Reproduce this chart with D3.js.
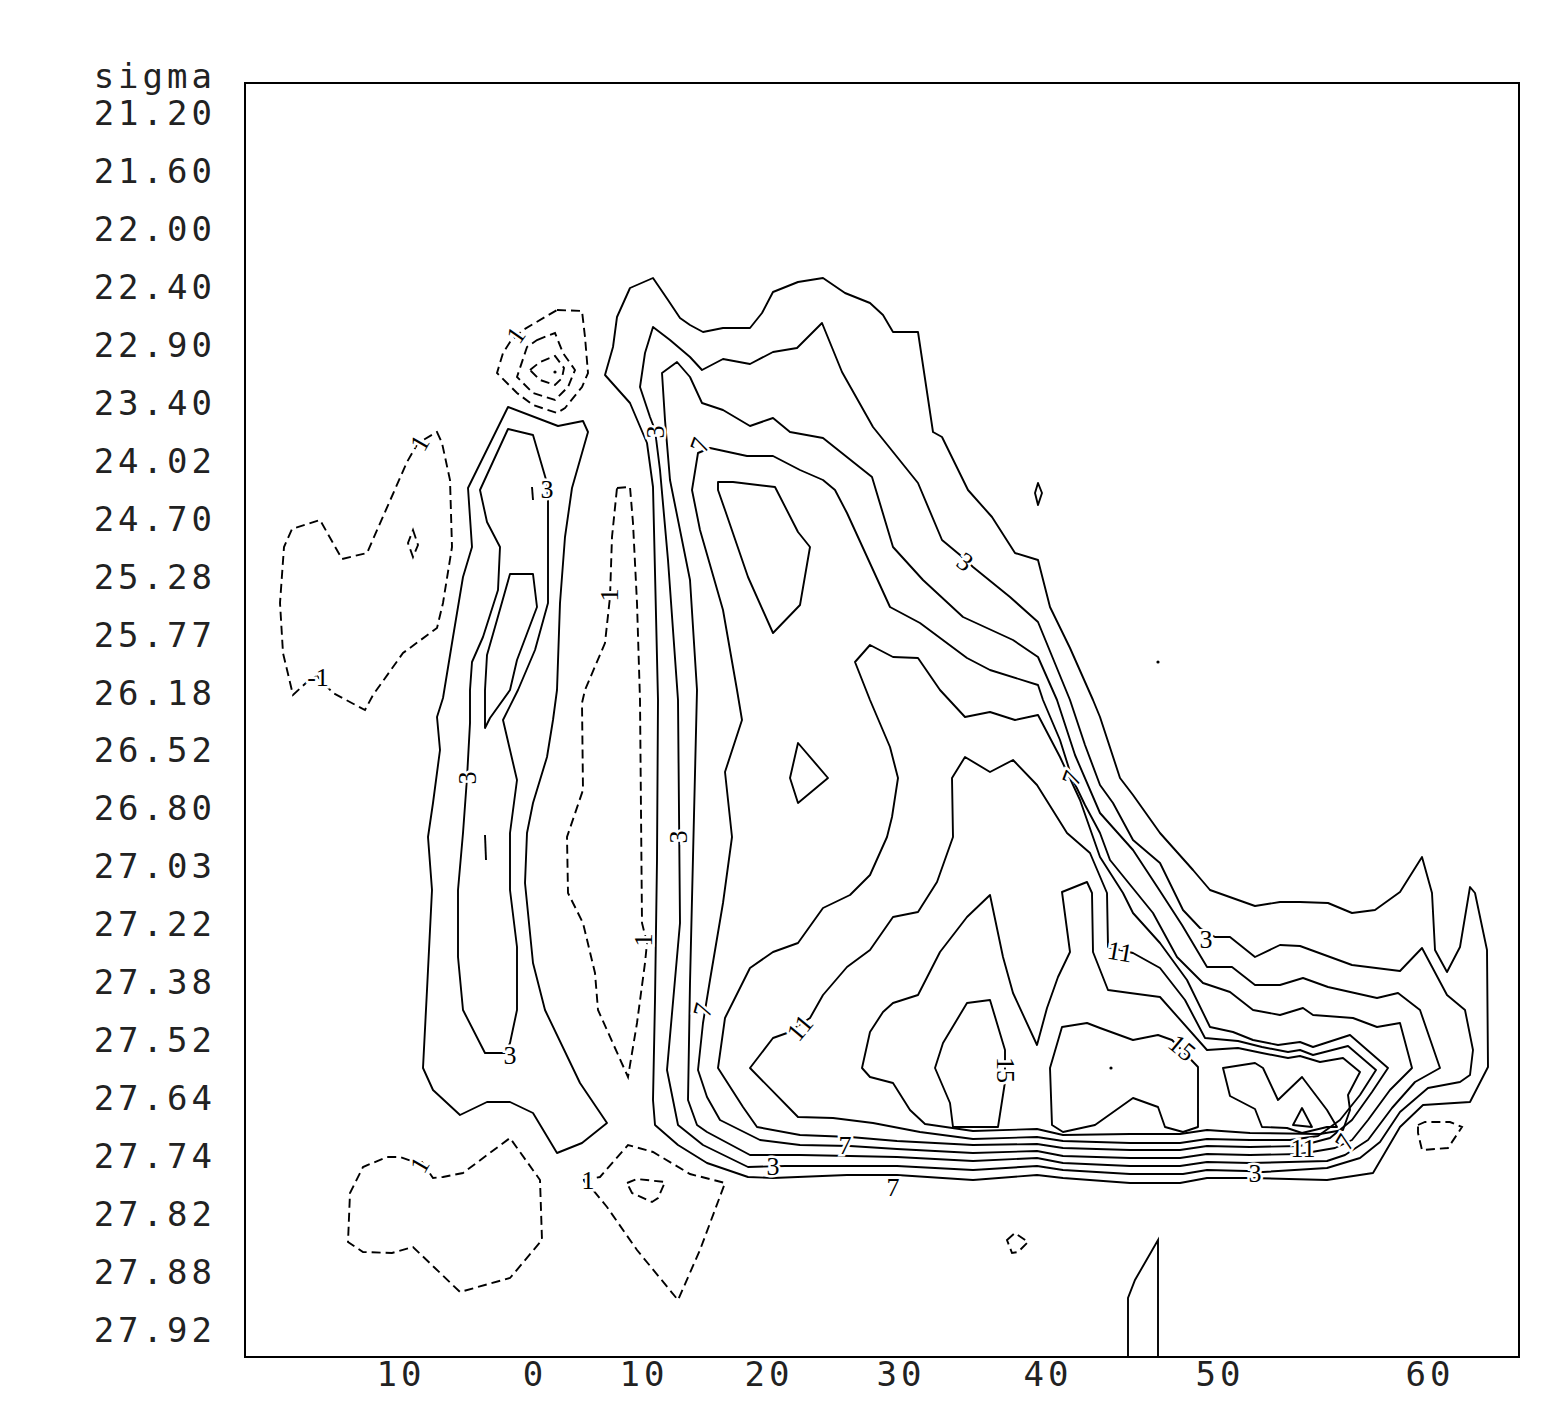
<!DOCTYPE html>
<html>
<head>
<meta charset="utf-8">
<script src="https://cdn.jsdelivr.net/npm/d3@7"></script>
<style>
  body { margin: 0; background: #fff; }
  svg { display: block; }
</style>
</head>
<body>
<svg id="chart"></svg>
<script>
// density section: x = station grid units, y = sigma-level grid units (0..127.4 both)
const sigmaLabels = ["21.20","21.60","22.00","22.40","22.90","23.40","24.02","24.70","25.28","25.77",
  "26.18","26.52","26.80","27.03","27.22","27.38","27.52","27.64","27.74","27.82","27.88","27.92"];
const latLabels = ["10","0","10","20","30","40","50","60"];
const latGrid = [15.4, 28.8, 39.7, 52.2, 65.4, 80.1, 97.3, 118.3];

// negative (dashed) closed contours
const negRings = [
  [[19.2,34.9],[19.7,36.0],[20.5,39.7],[20.7,46.4],[19.8,52.0],[19.2,54.5],[15.8,57.0],[12.8,61.2],[12.0,62.7],[8.8,61.0],[7.2,59.3],[6.2,59.9],[4.8,61.2],[3.8,57.0],[3.5,52.0],[3.9,46.4],[4.7,44.6],[7.5,43.7],[9.7,47.6],[12.2,47.0],[16.2,37.9],[17.3,36.0]],
  [[16.8,44.7],[17.3,46.2],[16.8,47.4],[16.3,46.0]],
  [[31.2,22.7],[33.7,22.8],[34.0,25.4],[34.3,29.0],[33.7,30.4],[32.0,32.5],[31.2,33.0],[28.8,32.2],[27.2,31.0],[25.2,29.0],[25.8,27.0],[26.5,25.9],[27.8,24.7]],
  [[29.2,25.7],[31.0,25.0],[31.8,27.0],[33.0,28.7],[32.3,30.4],[31.0,31.7],[28.8,31.0],[27.2,29.4],[28.2,26.4]],
  [[28.5,28.7],[29.5,27.9],[31.0,27.3],[31.9,28.5],[31.7,29.5],[31.0,30.2],[29.5,29.7]],
  [[37.2,40.5],[38.5,40.4],[38.8,44.0],[39.2,52.0],[39.5,61.7],[39.7,84.0],[40.2,86.0],[40.0,88.0],[39.2,94.0],[38.3,99.4],[35.3,92.7],[35.0,89.0],[33.8,84.0],[32.3,81.0],[32.2,75.4],[33.8,70.7],[33.7,62.0],[34.0,60.7],[36.0,56.0],[36.5,51.4],[36.7,45.4]],
  [[17.7,107.9],[18.8,109.5],[19.8,109.4],[21.8,109.0],[26.5,105.5],[29.5,109.7],[29.7,115.7],[26.5,119.5],[21.5,120.9],[16.8,116.4],[14.7,117.0],[11.8,116.9],[10.3,115.9],[10.5,111.0],[11.8,108.4],[14.2,107.4],[15.5,107.4],[17.2,108.0]],
  [[33.8,109.7],[35.5,109.4],[38.3,106.2],[40.8,106.9],[44.5,109.1],[48.0,110.0],[45.5,116.7],[43.3,121.7],[39.2,116.7],[36.2,112.4],[34.8,110.7]],
  [[38.2,110.0],[39.2,109.6],[42.0,109.9],[41.3,111.5],[40.7,111.9],[38.7,111.0]],
  [[76.2,115.7],[77.0,115.0],[78.3,115.9],[77.3,116.9],[76.7,117.0]],
  [[117.3,104.2],[118.0,103.9],[120.5,103.9],[121.7,104.4],[120.3,106.5],[117.7,106.7],[117.3,105.0]]
];

// positive (solid) closed contours, levels 1..17
const posRings = [
  // western ridge: 1, 3, 5
  [[26.3,32.4],[31.3,34.3],[33.8,33.8],[34.3,34.9],[32.7,40.5],[32.0,45.4],[31.5,52.0],[31.2,60.7],[30.8,63.7],[30.2,67.4],[28.8,72.0],[28.2,75.0],[28.0,80.0],[28.8,88.0],[30.0,92.7],[33.5,100.0],[36.2,104.0],[33.7,106.0],[31.2,107.0],[28.8,103.0],[26.5,101.9],[24.2,101.9],[21.5,103.2],[18.8,100.7],[17.8,98.5],[18.2,90.7],[18.7,80.7],[18.3,75.4],[18.8,72.0],[19.5,66.7],[19.2,63.4],[19.8,61.5],[20.8,55.4],[21.8,49.4],[22.7,46.4],[22.3,40.5]],
  [[26.3,34.6],[28.8,35.2],[30.2,40.0],[30.3,41.7],[30.3,52.0],[29.0,56.7],[27.3,60.7],[25.8,63.7],[27.2,69.7],[26.5,75.0],[26.5,80.7],[27.2,86.4],[27.2,92.7],[26.5,96.0],[26.0,97.0],[24.0,97.0],[21.8,92.7],[21.3,87.4],[21.3,80.7],[21.8,75.0],[22.2,69.5],[22.5,64.0],[22.5,60.7],[22.7,57.9],[23.8,55.4],[25.3,50.7],[25.5,46.4],[24.2,43.9],[23.5,40.7]],
  [[26.5,49.1],[28.8,49.1],[29.2,52.4],[27.2,57.7],[26.5,60.7],[24.5,63.5],[24.0,64.5],[24.0,60.7],[24.2,57.2],[25.2,53.7]],
  // main core: 1
  [[41.3,61.7],[41.2,77.7],[41.0,91.7],[40.8,101.7],[41.0,104.2],[43.3,106.2],[46.2,108.0],[50.3,109.4],[52.8,109.5],[60.2,109.2],[65.2,109.2],[72.8,109.7],[79.2,109.2],[81.8,109.5],[88.5,110.0],[93.5,110.0],[96.2,109.5],[100.5,109.5],[108.2,109.7],[112.8,109.0],[115.5,104.4],[117.8,102.2],[122.5,101.9],[124.3,98.4],[124.2,86.7],[123.0,81.0],[122.5,80.4],[121.5,86.4],[120.2,88.9],[119.0,86.7],[118.7,81.0],[117.7,77.4],[115.5,80.9],[113.0,82.7],[110.7,83.0],[108.3,82.0],[105.5,81.9],[103.5,81.9],[101.0,82.3],[96.5,80.7],[94.8,78.7],[91.5,75.0],[88.8,71.2],[87.5,69.5],[85.5,63.4],[84.8,61.7],[82.5,56.5],[80.5,52.4],[79.3,47.7],[77.0,47.0],[74.7,43.4],[72.3,40.7],[69.7,35.4],[68.8,34.9],[67.3,24.9],[64.8,24.9],[63.8,23.2],[62.5,22.0],[60.0,21.0],[57.8,19.5],[55.3,19.9],[52.8,20.9],[51.7,23.0],[50.5,24.5],[47.8,24.5],[45.8,24.9],[44.5,24.2],[43.5,23.5],[42.3,21.7],[40.8,19.5],[38.5,20.5],[37.2,23.4],[36.8,26.4],[36.0,29.2],[38.5,32.0],[40.2,36.0],[40.8,40.4]],
  // 3
  [[40.8,24.4],[42.5,25.7],[44.5,27.4],[45.7,28.7],[47.8,27.6],[50.5,28.1],[52.8,26.9],[55.2,26.5],[57.7,24.0],[59.7,28.9],[62.8,34.4],[67.3,40.0],[69.7,45.7],[71.5,47.2],[72.8,48.4],[76.5,51.4],[79.3,53.9],[82.5,61.7],[84.0,66.2],[85.5,70.2],[86.8,72.0],[88.8,75.7],[91.5,78.0],[93.8,82.7],[95.5,84.5],[97.0,85.4],[98.5,85.4],[101.0,87.4],[103.5,86.2],[105.5,86.3],[110.7,88.2],[115.5,88.8],[117.7,86.5],[120.2,91.2],[122.0,92.7],[122.8,96.7],[122.5,99.2],[121.5,99.9],[118.3,100.5],[115.5,102.9],[113.5,105.9],[111.5,107.5],[108.2,108.5],[101.8,108.9],[100.2,108.8],[96.2,108.7],[93.8,109.1],[88.5,109.1],[81.8,108.7],[79.2,108.3],[72.8,108.7],[65.2,108.3],[60.2,108.3],[54.0,108.3],[50.3,108.4],[45.8,106.2],[43.3,104.2],[42.8,101.7],[42.2,98.7],[43.5,84.0],[43.3,61.7],[42.3,47.7],[41.5,38.7],[41.0,34.7],[40.5,33.4],[39.5,30.4],[40.0,27.0]],
  // 5
  [[41.7,29.0],[43.2,27.9],[44.5,29.4],[45.7,32.0],[47.8,32.7],[50.5,34.3],[52.8,33.5],[54.5,34.9],[57.8,35.5],[62.7,39.4],[64.8,46.4],[67.8,49.7],[71.8,53.4],[76.8,55.7],[79.3,57.4],[81.2,61.7],[83.0,67.2],[85.5,73.0],[88.8,76.7],[91.3,80.5],[93.7,84.2],[96.2,88.4],[98.7,88.4],[101.0,90.2],[103.5,90.2],[105.8,89.5],[108.3,90.4],[113.2,91.5],[115.3,91.0],[117.5,92.7],[119.5,98.5],[117.0,99.9],[114.7,102.5],[112.3,105.7],[110.0,107.2],[108.2,107.8],[100.5,108.0],[96.2,107.9],[93.5,108.3],[88.5,108.3],[81.8,108.0],[79.2,107.5],[72.8,107.8],[65.2,107.4],[60.5,107.3],[55.5,107.2],[50.5,107.2],[46.2,104.9],[45.2,104.2],[44.3,101.7],[44.5,90.0],[44.8,77.4],[45.2,60.7],[44.5,49.7],[42.5,39.7],[42.0,33.7]],
  // 7
  [[45.3,37.0],[46.5,36.5],[50.2,37.3],[52.8,37.3],[55.5,38.7],[57.8,39.7],[59.0,40.7],[60.2,43.0],[64.5,52.4],[67.5,54.0],[72.2,57.5],[74.5,58.7],[79.3,60.2],[79.8,61.7],[81.5,65.7],[82.7,69.5],[84.0,72.2],[85.5,75.0],[86.5,77.7],[90.8,83.0],[93.2,87.4],[95.8,90.0],[98.5,90.9],[100.8,92.7],[103.5,93.2],[105.8,92.5],[106.8,93.2],[110.8,93.5],[113.2,94.4],[115.5,94.0],[116.7,98.5],[114.5,100.7],[112.3,103.7],[110.7,105.7],[109.0,106.5],[105.5,107.1],[100.5,107.2],[96.2,107.1],[93.5,107.5],[88.5,107.5],[81.8,107.3],[79.2,106.8],[72.8,107.0],[65.2,106.6],[60.5,106.3],[55.5,106.2],[51.5,105.7],[47.5,103.7],[46.2,101.4],[45.3,98.7],[45.8,94.0],[46.5,89.7],[47.8,82.0],[48.7,75.4],[48.0,68.9],[49.7,63.7],[49.2,60.7],[47.8,52.7],[45.5,44.7],[44.7,40.7]],
  // 9
  [[61.0,57.9],[62.5,56.2],[64.8,57.4],[67.3,57.5],[69.5,60.7],[72.0,63.4],[74.5,62.9],[77.0,63.7],[79.3,63.2],[81.5,67.4],[83.5,71.7],[85.5,77.4],[87.8,81.0],[88.8,83.0],[91.5,86.0],[94.2,89.7],[96.5,94.4],[98.8,94.9],[100.8,95.7],[103.3,96.2],[105.5,95.9],[106.8,96.4],[110.5,95.2],[114.3,98.5],[112.7,100.9],[110.7,103.7],[108.5,105.5],[105.5,106.3],[100.5,106.4],[96.2,106.3],[93.5,106.7],[88.5,106.7],[81.8,106.5],[79.2,106.1],[72.8,106.2],[65.2,105.8],[60.5,105.4],[55.5,105.2],[51.2,104.4],[49.8,102.4],[47.3,98.5],[48.0,93.5],[50.5,88.5],[52.8,86.9],[55.3,86.0],[57.8,82.5],[60.5,81.2],[62.5,79.2],[64.2,75.4],[64.7,73.4],[65.3,69.5],[64.5,66.4],[62.5,61.7]],
  [[47.3,39.9],[48.8,39.9],[53.0,40.4],[55.3,44.9],[56.5,46.4],[55.5,52.2],[52.8,55.0],[50.3,49.4],[48.0,42.7],[47.3,40.7]],
  // 11
  [[50.5,98.5],[52.8,95.5],[54.2,95.0],[56.5,93.5],[57.8,91.2],[60.2,88.4],[62.5,86.7],[64.8,83.4],[67.3,82.9],[69.2,79.9],[70.8,75.4],[70.7,69.5],[72.0,67.4],[74.5,68.9],[76.8,67.7],[79.2,70.2],[82.2,75.0],[84.5,77.0],[86.2,81.0],[86.3,86.4],[88.8,87.0],[91.5,88.5],[94.0,91.7],[96.0,95.5],[99.3,95.8],[101.7,96.4],[104.3,96.9],[105.5,96.7],[106.8,97.2],[110.3,96.3],[113.1,98.7],[111.5,101.2],[109.5,103.7],[107.3,105.3],[104.5,105.7],[100.5,105.7],[96.2,105.6],[93.5,106.0],[88.5,106.0],[81.8,105.8],[79.2,105.4],[72.8,105.6],[67.5,104.9],[62.8,104.0],[58.8,103.5],[55.3,103.4]],
  [[55.3,66.0],[58.3,69.5],[55.3,72.0],[54.5,69.5]],
  // 13
  [[74.5,81.2],[75.8,87.4],[76.8,91.0],[79.2,96.2],[80.2,92.5],[81.3,89.4],[82.5,86.9],[81.7,80.9],[84.2,79.9],[84.7,81.0],[84.8,86.9],[86.3,90.7],[88.5,91.0],[91.5,91.4],[96.2,96.7],[99.3,96.5],[101.7,97.0],[104.3,97.5],[105.5,97.3],[107.5,97.9],[109.8,97.5],[111.5,98.9],[110.3,101.2],[110.5,102.7],[109.8,104.7],[107.5,105.1],[100.5,105.0],[96.2,104.7],[93.5,105.1],[88.5,105.1],[81.8,105.2],[79.2,104.6],[72.8,104.8],[68.0,104.1],[66.5,102.7],[64.8,100.0],[62.5,99.4],[61.7,98.5],[62.5,94.9],[63.8,92.9],[64.8,92.0],[67.3,91.2],[69.5,86.9],[72.2,83.4]],
  // 15
  [[72.2,92.0],[74.5,91.7],[76.0,96.7],[76.0,99.9],[75.3,104.4],[70.8,104.4],[70.5,102.0],[69.0,98.5],[69.8,96.0]],
  [[80.5,98.5],[81.7,94.4],[84.2,94.0],[85.5,94.5],[88.8,95.7],[91.3,95.2],[92.7,95.7],[95.3,98.4],[95.3,104.4],[93.8,104.9],[92.0,104.4],[91.3,102.4],[88.8,101.5],[85.0,104.2],[81.8,104.9],[80.7,104.2]],
  [[97.8,98.5],[101.0,98.0],[101.8,98.5],[103.3,101.7],[105.7,99.4],[108.2,102.7],[109.2,104.4],[108.2,104.4],[105.7,105.0],[104.2,104.5],[101.7,104.4],[101.0,102.6],[98.5,101.3]],
  // 17
  [[104.8,104.2],[105.7,102.5],[106.7,104.4]],
  // small isolated cell
  [[79.3,40.0],[79.7,41.0],[79.3,42.2],[79.0,41.0]]
];

// open solid pieces (cut by the bottom axis) and slivers
const posOpen = [
  [[88.3,127.4],[88.3,121.5],[89.0,119.7],[91.3,115.7],[91.3,127.4]],
  [[28.7,40.4],[28.8,41.7]],
  [[24.0,75.2],[24.1,77.7]]
];
const dots = [[31.0,28.9],[91.3,57.9],[86.6,98.5]];

// contour labels: text, x, y, angle
const labels = [
  ["1",17.5,36.0,-60],["-1",7.3,59.4,0],["1",27.1,25.2,-55],["1",36.4,51.2,-90],["1",39.8,85.7,-90],
  ["1",17.5,108.2,-60],["1",34.3,109.7,0],
  ["3",30.2,40.6,0],["3",22.2,69.5,-90],["3",26.5,97.2,0],
  ["3",41.0,34.9,-90],["7",45.5,36.2,-70],["3",72.0,47.9,35],["3",96.1,85.6,0],["7",82.7,69.5,-70],
  ["3",43.3,75.4,-90],["7",45.8,92.7,-75],["11",55.5,94.5,-50],["11",87.5,86.9,10],["15",76.0,98.7,90],
  ["15",93.7,96.5,40],["7",60.0,106.2,0],["3",52.8,108.3,0],["11",105.8,106.5,0],["7",110.0,105.9,-60],
  ["3",101.0,109.0,0],["7",64.8,110.4,0]
];

const W = 1561, H = 1411;
const frame = {left: 245, top: 83, size: 1274};

const svg = d3.select("#chart").attr("width", W).attr("height", H);

const x = d3.scaleLinear().domain([0, 127.4]).range([frame.left, frame.left + frame.size]);
const y = d3.scaleLinear().domain([0, 127.4]).range([frame.top, frame.top + frame.size]);
const ySigma = d3.scalePoint().domain(sigmaLabels).range([y(3.0), y(124.7)]);

const ring = d3.line().x(d => x(d[0])).y(d => y(d[1])).curve(d3.curveLinearClosed);
const open = d3.line().x(d => x(d[0])).y(d => y(d[1]));

const g = svg.append("g");

g.selectAll("path.neg").data(negRings).enter().append("path")
  .attr("class", "neg")
  .attr("d", ring)
  .attr("fill", "none").attr("stroke", "#000").attr("stroke-width", 1.9)
  .attr("stroke-dasharray", "9,5");

g.selectAll("path.pos").data(posRings).enter().append("path")
  .attr("class", "pos")
  .attr("d", ring)
  .attr("fill", "none").attr("stroke", "#000").attr("stroke-width", 1.9)
  .attr("stroke-linejoin", "round");

g.selectAll("path.open").data(posOpen).enter().append("path")
  .attr("class", "open")
  .attr("d", open)
  .attr("fill", "none").attr("stroke", "#000").attr("stroke-width", 1.9);

g.selectAll("circle").data(dots).enter().append("circle")
  .attr("cx", d => x(d[0])).attr("cy", d => y(d[1])).attr("r", 1.6).attr("fill", "#000");

g.selectAll("text.lab").data(labels).enter().append("text")
  .attr("class", "lab")
  .attr("transform", d => "translate(" + x(d[1]) + "," + y(d[2]) + ") rotate(" + d[3] + ")")
  .attr("text-anchor", "middle").attr("dominant-baseline", "central")
  .style("font-family", "'Liberation Serif', 'DejaVu Serif', serif")
  .style("font-size", "26px")
  .style("paint-order", "stroke")
  .attr("stroke", "#fff").attr("stroke-width", 5)
  .attr("fill", "#000")
  .text(d => d[0]);

// frame
svg.append("rect")
  .attr("x", x(0)).attr("y", y(0))
  .attr("width", x(127.4) - x(0)).attr("height", y(127.4) - y(0))
  .attr("fill", "none").attr("stroke", "#000").attr("stroke-width", 2);

const axisFont = "'DejaVu Sans Mono', 'Liberation Mono', monospace";

// sigma tick labels
svg.append("g").selectAll("text").data(sigmaLabels).enter().append("text")
  .attr("x", 216).attr("y", d => ySigma(d))
  .attr("text-anchor", "end").attr("dominant-baseline", "central")
  .style("font-family", axisFont).style("font-size", "34px").style("letter-spacing", "4px")
  .attr("fill", "#222")
  .text(d => d);

svg.append("text")
  .attr("x", 216).attr("y", y(3.0) - 37)
  .attr("text-anchor", "end").attr("dominant-baseline", "central")
  .style("font-family", axisFont).style("font-size", "34px").style("letter-spacing", "4px")
  .attr("fill", "#222")
  .text("sigma");

// latitude labels
svg.append("g").selectAll("text").data(latLabels).enter().append("text")
  .attr("x", (d, i) => x(latGrid[i]) + 2).attr("y", y(127.4) + 17)
  .attr("text-anchor", "middle").attr("dominant-baseline", "central")
  .style("font-family", axisFont).style("font-size", "34px").style("letter-spacing", "4px")
  .attr("fill", "#222")
  .text(d => d);
</script>
</body>
</html>
